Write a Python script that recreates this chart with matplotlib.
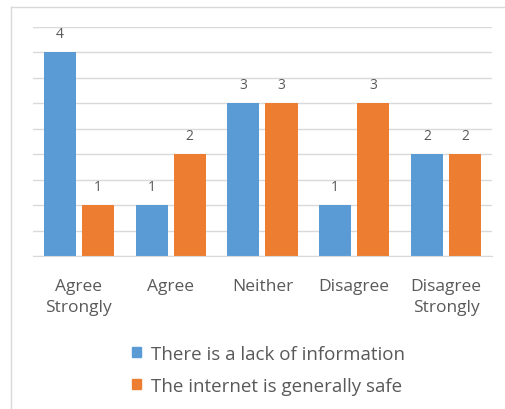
import matplotlib.pyplot as plt
from matplotlib.patches import Patch
from matplotlib.lines import Line2D
import numpy as np

# chart data
categories = ["Agree\nStrongly", "Agree", "Neither", "Disagree", "Disagree\nStrongly"]
lack_info = [4, 1, 3, 1, 2]
internet_safe = [1, 2, 3, 3, 2]
series_names = ["There is a lack of information", "The internet is generally safe"]

blue = "#5b9bd5"
orange = "#ed7d31"
text_col = "#595959"
grid_col = "#d9d9d9"

plt.rcParams['font.family'] = ['Open Sans', 'DejaVu Sans']

fig = plt.figure(figsize=(5.05, 4.1), dpi=100)
ax = fig.add_axes([0.0653, 0.373, 0.9087, 0.559])

x = np.arange(len(categories))
w = 0.35
gap = 0.065
b1 = ax.bar(x - (w + gap) / 2, lack_info, w, color=blue, zorder=2)
b2 = ax.bar(x + (w + gap) / 2, internet_safe, w, color=orange, zorder=2)

for bars in (b1, b2):
    ax.bar_label(bars, padding=8, fontsize=10, color=text_col)

ax.set_xlim(-0.5, len(categories) - 0.5)
ax.set_ylim(0, 4.5)
ax.set_yticks(np.arange(0, 4.51, 0.5))
ax.set_yticklabels([])
ax.tick_params(axis='y', length=0)
ax.grid(axis='y', color=grid_col, linewidth=1, zorder=0)

ax.set_xticks(x)
ax.set_xticklabels(categories, fontsize=12.5, color=text_col, linespacing=1.45)
ax.tick_params(axis='x', length=0, pad=15.5)

for side in ['left', 'right', 'top']:
    ax.spines[side].set_visible(False)
ax.spines['bottom'].set_color(grid_col)

handles = [Patch(color=blue), Patch(color=orange)]
leg = fig.legend(handles, series_names, loc='center', bbox_to_anchor=(0.531, 0.096),
                 frameon=False, fontsize=13.5, handlelength=0.5, handleheight=0.5,
                 handletextpad=0.5, labelspacing=0.75)
for t in leg.get_texts():
    t.set_color(text_col)

# light outer border (left and top edges only)
fig.add_artist(Line2D([11 / 505, 11 / 505], [0, 1 - 8 / 410], transform=fig.transFigure,
                      color="#d9d9d9", linewidth=1))
fig.add_artist(Line2D([11 / 505, 1], [1 - 8 / 410, 1 - 8 / 410], transform=fig.transFigure,
                      color="#d9d9d9", linewidth=1))

fig.savefig("out.png", dpi=100)
